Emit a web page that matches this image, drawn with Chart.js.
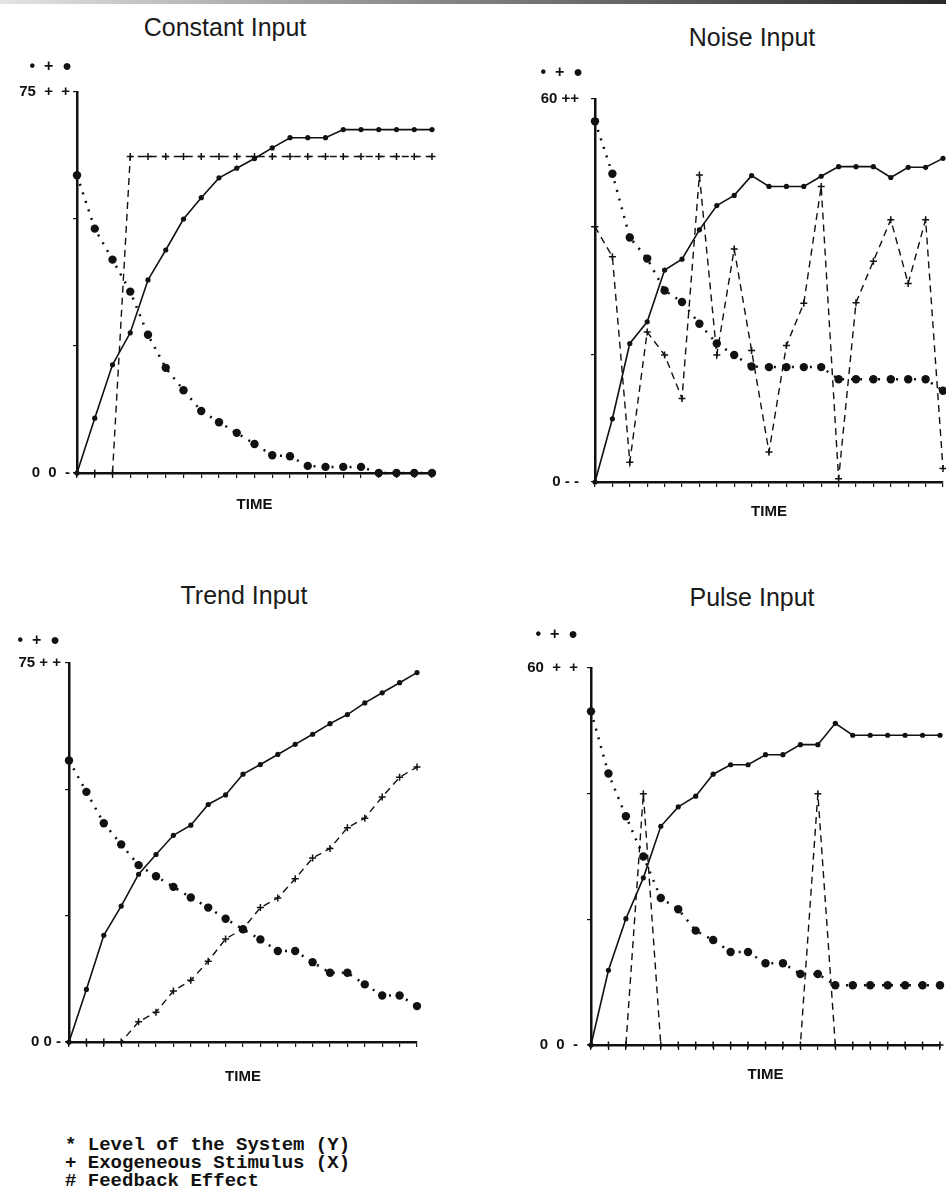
<!DOCTYPE html>
<html>
<head>
<meta charset="utf-8">
<script src="https://cdn.jsdelivr.net/npm/chart.js@4.4.1/dist/chart.umd.min.js"></script>
<style>
body { margin:0; background:#fff; width:946px; height:1192px; position:relative; overflow:hidden; font-family:"Liberation Sans", Arial, sans-serif; }
.topbar { position:absolute; left:0; top:0; width:946px; height:4px; background:linear-gradient(to right, #e4e4e4 0%, #9a9a9a 35%, #2a2a2a 100%); }
.title { position:absolute; width:300px; text-align:center; font-size:25px; line-height:24px; color:#1b1b1b; }
canvas { position:absolute; }
.legend { position:absolute; left:65px; top:1136px; font-family:"Liberation Mono", monospace; font-weight:bold; font-size:19px; line-height:18px; color:#111; white-space:pre; }
</style>
</head>
<body>
<div class="topbar"></div>
<div class="title" style="left:75px; top:15px;">Constant Input</div>
<div class="title" style="left:602px; top:25px;">Noise Input</div>
<div class="title" style="left:94px; top:583px;">Trend Input</div>
<div class="title" style="left:602px; top:585px;">Pulse Input</div>

<canvas id="cConstant" width="470" height="480" style="left:0px; top:50px;"></canvas>
<canvas id="cNoise" width="466" height="480" style="left:480px; top:50px;"></canvas>
<canvas id="cTrend" width="470" height="470" style="left:0px; top:620px;"></canvas>
<canvas id="cPulse" width="466" height="470" style="left:480px; top:620px;"></canvas>

<div class="legend">* Level of the System (Y)
+ Exogeneous Stimulus (X)
# Feedback Effect</div>

<script>
// time steps on the x axis
const timeSteps = [0, 1, 2, 3, 4, 5, 6, 7, 8, 9, 10, 11, 12, 13, 14, 15, 16, 17, 18, 19, 20];

// Constant Input
const constantLevel = [0, 10.8, 21.3, 27.6, 38, 43.9, 50, 54.2, 58.1, 60, 61.9, 64, 66, 66, 66, 67.6, 67.6, 67.6, 67.6, 67.6, 67.6];
const constantStimulus = [0, 0, 0, 62.3, 62.3, 62.3, 62.3, 62.3, 62.3, 62.3, 62.3, 62.3, 62.3, 62.3, 62.3, 62.3, 62.3, 62.3, 62.3, 62.3, 62.3];
const constantFeedback = [58.6, 48.1, 42, 35.7, 27.2, 20.7, 16.3, 12.2, 10, 7.9, 5.7, 3.5, 3.3, 1.4, 1.2, 1.2, 1.2, 0, 0, 0, 0];

// Noise Input
const noiseLevel = [0, 9.9, 21.7, 25.1, 33.2, 34.9, 39.5, 43.3, 44.9, 48, 46.3, 46.3, 46.3, 47.9, 49.4, 49.4, 49.4, 47.7, 49.3, 49.3, 50.7];
const noiseStimulus = [40, 35.3, 3.1, 23.5, 19.9, 13.1, 48.1, 19.9, 36.5, 20.6, 4.7, 21.4, 28, 46.3, 0.5, 28.1, 34.6, 41.1, 31.1, 41.1, 2.1];
const noiseFeedback = [56.5, 48.3, 38.3, 35, 30, 28.2, 24.8, 21.7, 19.9, 18.1, 18, 18, 18, 18, 16.1, 16.1, 16.1, 16.1, 16.1, 16.1, 14.3];

// Trend Input
const trendLevel = [0, 10.4, 21.1, 26.9, 33.2, 37.1, 40.9, 42.9, 47, 48.9, 53, 54.9, 56.9, 58.9, 60.9, 63, 64.8, 67.1, 69.1, 71.1, 73.1];
const trendStimulus = [0, 0, 0, 0, 4, 5.9, 10.1, 12.2, 16, 20.4, 22.4, 26.6, 28.5, 32.3, 36.4, 38.3, 42.4, 44.3, 48.5, 52.4, 54.4];
const trendFeedback = [55.7, 49.5, 43.3, 39.1, 35, 32.8, 30.7, 28.6, 26.6, 24.4, 22.3, 20.3, 18, 18, 15.8, 13.7, 13.7, 11.4, 9.2, 9.2, 7.1];

// Pulse Input
const pulseLevel = [0, 11.9, 20.1, 26.6, 34.8, 37.9, 39.6, 43.1, 44.6, 44.6, 46.2, 46.2, 47.8, 47.8, 51.2, 49.3, 49.3, 49.3, 49.3, 49.3, 49.3];
const pulseStimulus = [0, 0, 0, 40, 0, 0, 0, 0, 0, 0, 0, 0, 0, 40, 0, 0, 0, 0, 0, 0, 0];
const pulseFeedback = [53.1, 43.2, 36.4, 30, 23.4, 21.6, 18.2, 16.7, 14.8, 14.8, 13, 13, 11.3, 11.3, 9.5, 9.5, 9.5, 9.5, 9.5, 9.5, 9.5];

const ink = '#111';

// draws the "TIME" label and the symbol row above the y axis
const annotPlugin = {
    id: 'annot',
    afterDraw(chart, args, opts) {
        const ctx = chart.ctx;
        const a = chart.chartArea;
        ctx.save();
        ctx.fillStyle = ink;
        ctx.textBaseline = 'middle';
        ctx.font = 'bold 15px "Liberation Sans"';
        ctx.textAlign = 'center';
        ctx.fillText('TIME', (a.left + a.right) / 2, a.bottom + opts.timeGap);
        ctx.font = 'bold 16px "Liberation Sans"';
        ctx.textAlign = 'right';
        ctx.fillText('\u2022  +  \u25CF', a.left - opts.headX, a.top - opts.headY);
        ctx.restore();
    }
};

function makeChart(id, level, stimulus, feedback, p) {
    const data = {
        labels: timeSteps,
        datasets: [
            {
                label: 'Feedback Effect',
                data: feedback,
                borderColor: ink,
                borderWidth: 2.5,
                borderDash: [2, 7],
                pointStyle: 'circle',
                pointRadius: 4.2,
                pointBackgroundColor: ink,
                pointBorderWidth: 0,
                clip: false
            },
            {
                label: 'Exogeneous Stimulus (X)',
                data: stimulus,
                borderColor: ink,
                borderWidth: 1.4,
                borderDash: [7, 5],
                pointStyle: 'cross',
                pointRadius: 3.5,
                pointBorderColor: ink,
                pointBorderWidth: 1.5,
                clip: false
            },
            {
                label: 'Level of the System (Y)',
                data: level,
                borderColor: ink,
                borderWidth: 1.6,
                pointStyle: 'circle',
                pointRadius: 2.6,
                pointBackgroundColor: ink,
                pointBorderWidth: 0,
                clip: false
            }
        ]
    };

    const config = {
        type: 'line',
        data: data,
        plugins: [annotPlugin],
        options: {
            responsive: false,
            animation: false,
            layout: {
                autoPadding: false,
                padding: { top: p.padTop, right: p.padRight, left: 0, bottom: 0 }
            },
            scales: {
                x: {
                    type: 'category',
                    offset: false,
                    afterFit: function(scale) { scale.height = p.xH; },
                    grid: { drawOnChartArea: false, color: ink, tickLength: 5, lineWidth: 1.2 },
                    border: { color: ink, width: 2.5 },
                    ticks: { autoSkip: false, maxRotation: 0, callback: () => '' }
                },
                y: {
                    min: 0,
                    max: p.yMax,
                    afterFit: function(scale) { scale.width = p.yW; },
                    grid: { drawOnChartArea: false, color: ink, tickLength: 4, lineWidth: 1.2 },
                    border: { color: ink, width: 2.5 },
                    ticks: {
                        stepSize: p.step,
                        padding: p.tickPad,
                        color: ink,
                        font: { family: 'Liberation Sans', size: 15, weight: 'bold' },
                        callback: function(value) {
                            if (value === p.yMax) return p.topLabel;
                            if (value === 0) return p.zeroLabel;
                            return '';
                        }
                    }
                }
            },
            plugins: {
                legend: { display: false },
                tooltip: { enabled: false },
                annot: { timeGap: p.timeGap, headX: p.headX, headY: p.headY }
            }
        }
    };
    return new Chart(document.getElementById(id), config);
}

makeChart('cConstant', constantLevel, constantStimulus, constantFeedback, {
    padTop: 42, padRight: 38, yW: 77, xH: 57, yMax: 75, step: 25, tickPad: 3,
    topLabel: '75  +  +', zeroLabel: '0  0  -', timeGap: 32, headX: 5, headY: 25
});
makeChart('cNoise', noiseLevel, noiseStimulus, noiseFeedback, {
    padTop: 49, padRight: 3, yW: 115, xH: 48, yMax: 60, step: 20, tickPad: 12,
    topLabel: '60 ++', zeroLabel: '0 - -', timeGap: 30, headX: 12, headY: 26
});
makeChart('cTrend', trendLevel, trendStimulus, trendFeedback, {
    padTop: 43, padRight: 53, yW: 69, xH: 48, yMax: 75, step: 25, tickPad: 4,
    topLabel: '75 + +', zeroLabel: '0 0 -', timeGap: 35, headX: 9, headY: 22
});
makeChart('cPulse', pulseLevel, pulseStimulus, pulseFeedback, {
    padTop: 48, padRight: 6, yW: 111, xH: 45, yMax: 60, step: 20, tickPad: 9,
    topLabel: '60  +  +', zeroLabel: '0  0  -', timeGap: 30, headX: 13, headY: 33
});
</script>
</body>
</html>
